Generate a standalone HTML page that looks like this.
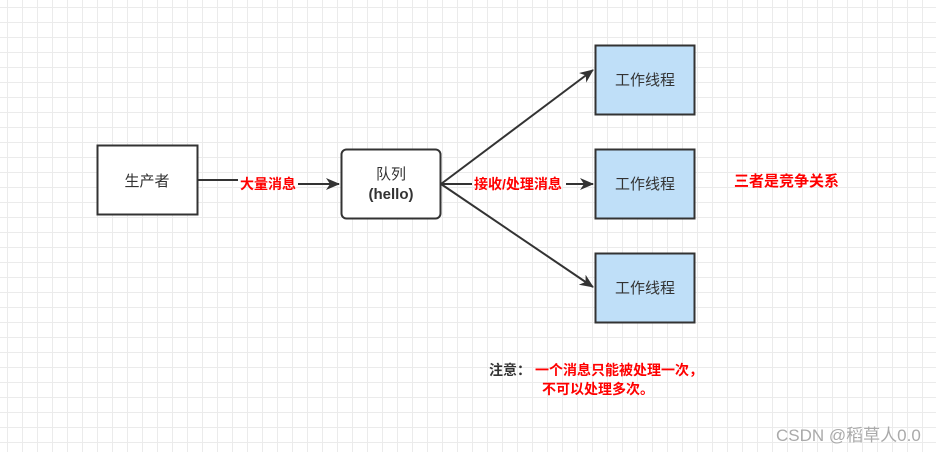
<!DOCTYPE html>
<html><head><meta charset="utf-8"><style>
body{margin:0;width:936px;height:452px;overflow:hidden;background:#fff;
background-image:linear-gradient(#ebebeb 1px,transparent 1px),linear-gradient(90deg,#ebebeb 1px,transparent 1px);
background-size:15px 15px;background-position:7px 7px;font-family:"Liberation Sans","Noto Sans CJK SC",sans-serif;}
</style></head><body>
<svg width="936" height="452" style="position:absolute;left:0;top:0" font-family="Liberation Sans, Noto Sans CJK SC, sans-serif">
<defs><marker id="a" markerWidth="14" markerHeight="12" refX="13" refY="6" orient="auto" markerUnits="userSpaceOnUse"><path d="M0,0 L14,6 L0,12 L4,6z" fill="#333"/></marker></defs>
<rect x="97.5" y="145.5" width="100" height="69" fill="#fff" stroke="#333" stroke-width="2"/>
<text x="147" y="186" font-size="15" text-anchor="middle" fill="#333">生产者</text>
<rect x="341.5" y="149.5" width="99" height="69" rx="5" fill="#fff" stroke="#333" stroke-width="2"/>
<text x="391" y="179" font-size="15" text-anchor="middle" fill="#333">队列</text>
<text x="391" y="199" font-size="15" text-anchor="middle" fill="#333" font-weight="bold">(hello)</text>
<g fill="#bfdff8" stroke="#333" stroke-width="2">
<rect x="595.5" y="45.5" width="99" height="69"/>
<rect x="595.5" y="149.5" width="99" height="69"/>
<rect x="595.5" y="253.5" width="99" height="69"/>
</g>
<g font-size="15" text-anchor="middle" fill="#333">
<text x="645" y="85">工作线程</text><text x="645" y="189">工作线程</text><text x="645" y="293">工作线程</text>
</g>
<g stroke="#333" stroke-width="2" fill="none">
<line x1="198" y1="180" x2="238" y2="180"/>
<line x1="298" y1="184" x2="339" y2="184" marker-end="url(#a)"/>
<line x1="441" y1="184" x2="593" y2="70" marker-end="url(#a)"/>
<line x1="441" y1="184" x2="472" y2="184"/>
<line x1="566" y1="184" x2="593" y2="184" marker-end="url(#a)"/>
<line x1="441" y1="184" x2="593" y2="287" marker-end="url(#a)"/>
</g>
<g fill="#f00" font-size="14" font-weight="bold">
<text x="240" y="189">大量消息</text>
<text x="474" y="189">接收/处理消息</text>
<text x="734" y="186" font-size="15">三者是竞争关系</text>
<text x="535" y="375">一个消息只能被处理一次，</text>
<text x="542" y="394">不可以处理多次。</text>
</g>
<text x="489" y="375" font-size="14" font-weight="bold" fill="#333">注意：</text>
<text x="776" y="441" font-size="17" fill="#aaa">CSDN @稻草人0.0</text>
</svg>
</body></html>
